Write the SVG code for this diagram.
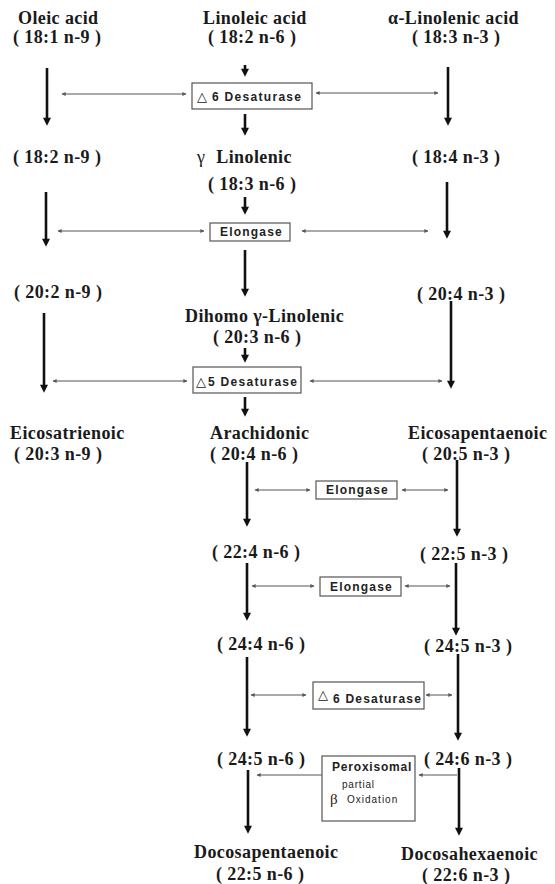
<svg xmlns="http://www.w3.org/2000/svg" width="555" height="884" viewBox="0 0 555 884">
<style>
.lbl{font-family:"Liberation Serif","Times New Roman",serif;font-weight:bold;font-size:18px;letter-spacing:0.4px;fill:#1a1a1a}
.enz{font-family:"Liberation Sans",Arial,sans-serif;font-weight:bold;font-size:12px;fill:#222}
.tri{font-family:"DejaVu Sans",sans-serif;font-size:13px;fill:#222}
.box{fill:#fff;stroke:#555;stroke-width:1.2}
.v{stroke:#111;stroke-width:2.6;fill:none;marker-end:url(#ah)}
.h{stroke:#555;stroke-width:1;fill:none;marker-end:url(#sa);marker-start:url(#sa)}
.h1{stroke:#555;stroke-width:1;fill:none;marker-start:url(#sa)}
</style>
<defs>
<marker id="ah" viewBox="0 0 10 10" refX="4" refY="5" markerWidth="10" markerHeight="8" markerUnits="userSpaceOnUse" orient="auto"><path d="M0,0 L10,5 L0,10 z" fill="#111"/></marker>
<marker id="sa" viewBox="0 0 10 10" refX="9" refY="5" markerWidth="5" markerHeight="4" markerUnits="userSpaceOnUse" orient="auto-start-reverse"><path d="M0,0 L10,5 L0,10 z" fill="#555"/></marker>
</defs>
<rect width="555" height="884" fill="#fff"/>
<g id="connectors">
<line class="v" x1="47" y1="68" x2="47" y2="121"/>
<line class="v" x1="46" y1="192" x2="46" y2="242"/>
<line class="v" x1="44" y1="313" x2="44" y2="388"/>
<line class="v" x1="245" y1="65" x2="245" y2="72"/>
<line class="v" x1="245" y1="114" x2="245" y2="131"/>
<line class="v" x1="245" y1="197" x2="245" y2="210"/>
<line class="v" x1="245" y1="250" x2="245" y2="292"/>
<line class="v" x1="245" y1="348" x2="245" y2="358"/>
<line class="v" x1="245" y1="397" x2="245" y2="412"/>
<line class="v" x1="247" y1="462" x2="247" y2="522"/>
<line class="v" x1="247" y1="563" x2="247" y2="616"/>
<line class="v" x1="247" y1="657" x2="247" y2="732"/>
<line class="v" x1="248" y1="770" x2="248" y2="829"/>
<line class="v" x1="448" y1="67" x2="448" y2="121"/>
<line class="v" x1="447" y1="182" x2="447" y2="234"/>
<line class="v" x1="451" y1="301" x2="451" y2="384"/>
<line class="v" x1="457" y1="460" x2="457" y2="532"/>
<line class="v" x1="456" y1="563" x2="456" y2="631"/>
<line class="v" x1="458" y1="654" x2="458" y2="736"/>
<line class="v" x1="459" y1="768" x2="459" y2="831"/>
<line class="h" x1="62" y1="94" x2="186" y2="94"/>
<line class="h" x1="316" y1="93" x2="438" y2="93"/>
<line class="h" x1="58" y1="231" x2="204" y2="231"/>
<line class="h" x1="302" y1="231" x2="428" y2="231"/>
<line class="h" x1="53" y1="381" x2="187" y2="381"/>
<line class="h" x1="310" y1="381" x2="442" y2="381"/>
<line class="h" x1="255" y1="490" x2="310" y2="490"/>
<line class="h" x1="402" y1="490" x2="448" y2="490"/>
<line class="h" x1="252" y1="586" x2="314" y2="586"/>
<line class="h" x1="405" y1="586" x2="450" y2="586"/>
<line class="h" x1="251" y1="695" x2="306" y2="695"/>
<line class="h" x1="426" y1="695" x2="452" y2="695"/>
<line class="h1" x1="257" y1="775" x2="322" y2="775"/>
<line class="h1" x1="419" y1="775" x2="457" y2="775"/>
</g>
<g id="oleic"><text class="lbl" x="18" y="24">Oleic acid</text><text class="lbl" x="13" y="43">( 18:1 n-9 )</text></g>
<g id="linoleic"><text class="lbl" x="203" y="24">Linoleic acid</text><text class="lbl" x="208" y="43">( 18:2 n-6 )</text></g>
<g id="alinolenic"><text class="lbl" x="388" y="24">α-Linolenic acid</text><text class="lbl" x="412" y="43">( 18:3 n-3 )</text></g>
<g id="d6-top"><rect class="box" x="192" y="83" width="120" height="26"/><text class="tri" x="197" y="101">△</text><text class="enz" x="212" y="101" style="letter-spacing:1.3px">6 Desaturase</text></g>
<g id="c18-2n9"><text class="lbl" x="13" y="163">( 18:2 n-9 )</text></g>
<g id="glinolenic"><text class="lbl" x="197" y="163"><tspan style="font-weight:normal">γ</tspan><tspan dx="6"> Linolenic</tspan></text><text class="lbl" x="208" y="190">( 18:3 n-6 )</text></g>
<g id="c18-4n3"><text class="lbl" x="412" y="163">( 18:4 n-3 )</text></g>
<g id="elong-1"><rect class="box" x="210" y="223" width="80" height="18"/><text class="enz" x="220" y="236" style="letter-spacing:1.2px">Elongase</text></g>
<g id="c20-2n9"><text class="lbl" x="14" y="298">( 20:2 n-9 )</text></g>
<g id="c20-4n3"><text class="lbl" x="417" y="300">( 20:4 n-3 )</text></g>
<g id="dihomo"><text class="lbl" x="185" y="322">Dihomo γ-Linolenic</text><text class="lbl" x="213" y="343">( 20:3 n-6 )</text></g>
<g id="d5"><rect class="box" x="193" y="367" width="108" height="26"/><text class="tri" x="196" y="386">△</text><text class="enz" x="208" y="386" style="letter-spacing:1.3px">5 Desaturase</text></g>
<g id="eicosatrienoic"><text class="lbl" x="10" y="439">Eicosatrienoic</text><text class="lbl" x="14" y="460">( 20:3 n-9 )</text></g>
<g id="arachidonic"><text class="lbl" x="210" y="439">Arachidonic</text><text class="lbl" x="210" y="460">( 20:4 n-6 )</text></g>
<g id="epa"><text class="lbl" x="408" y="439">Eicosapentaenoic</text><text class="lbl" x="422" y="460">( 20:5 n-3 )</text></g>
<g id="elong-2"><rect class="box" x="316" y="481" width="81" height="18"/><text class="enz" x="326" y="494" style="letter-spacing:1.2px">Elongase</text></g>
<g id="c22-4n6"><text class="lbl" x="212" y="558">( 22:4 n-6 )</text></g>
<g id="c22-5n3"><text class="lbl" x="420" y="560">( 22:5 n-3 )</text></g>
<g id="elong-3"><rect class="box" x="320" y="577" width="81" height="19"/><text class="enz" x="330" y="591" style="letter-spacing:1.2px">Elongase</text></g>
<g id="c24-4n6"><text class="lbl" x="217" y="650">( 24:4 n-6 )</text></g>
<g id="c24-5n3"><text class="lbl" x="424" y="652">( 24:5 n-3 )</text></g>
<g id="d6-bottom"><rect class="box" x="313" y="682" width="111" height="27"/><text class="tri" x="318" y="699">△</text><text class="enz" x="333" y="703" style="letter-spacing:1.2px">6 Desaturase</text></g>
<g id="c24-5n6"><text class="lbl" x="217" y="765">( 24:5 n-6 )</text></g>
<g id="c24-6n3"><text class="lbl" x="424" y="765">( 24:6 n-3 )</text></g>
<g id="perox"><rect class="box" x="322" y="756" width="93" height="65"/><text class="enz" x="332" y="771" style="letter-spacing:0.8px">Peroxisomal</text><text class="enz" x="342" y="788" style="font-weight:normal;font-size:10px;letter-spacing:0.8px">partial</text><text x="330" y="804" style="font-family:'Liberation Serif',serif;font-size:15px;fill:#222">β</text><text class="enz" x="347" y="803" style="font-weight:normal;font-size:10px;letter-spacing:1px">Oxidation</text></g>
<g id="dpa"><text class="lbl" x="194" y="858">Docosapentaenoic</text><text class="lbl" x="216" y="880">( 22:5 n-6 )</text></g>
<g id="dha"><text class="lbl" x="401" y="860">Docosahexaenoic</text><text class="lbl" x="422" y="881">( 22:6 n-3 )</text></g>
</svg>
